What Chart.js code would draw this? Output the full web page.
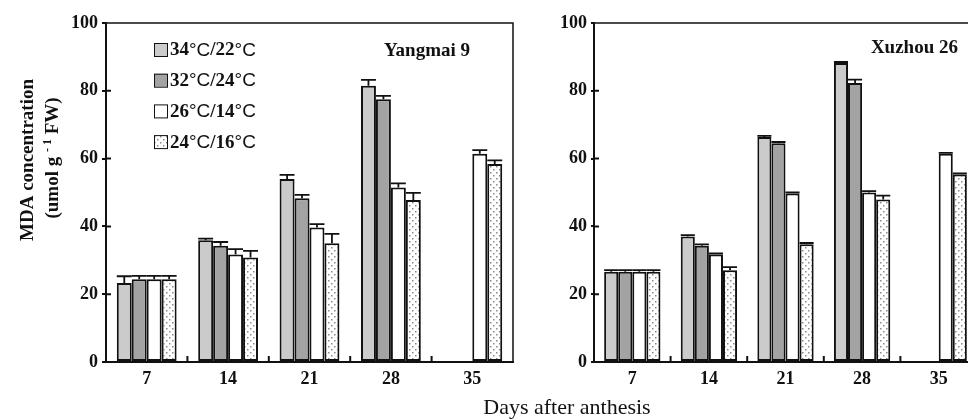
<!DOCTYPE html>
<html>
<head>
<meta charset="utf-8">
<script src="https://cdn.jsdelivr.net/npm/chart.js@4.4.0/dist/chart.umd.min.js"></script>
<style>
    html, body { margin: 0; padding: 0; background: #fff; }
    #wrap { position: relative; width: 968px; height: 419px; overflow: hidden; }
    #left { position: absolute; left: 0; top: 0; }
    #right { position: absolute; left: 480px; top: 0; }
    #xtitle {
        position: absolute; left: 417px; width: 300px; top: 394px;
        text-align: center; font: 22px "Liberation Serif", serif; color: #111;
    }
</style>
</head>
<body>
<div id="wrap">
    <canvas id="left" width="514" height="419"></canvas>
    <canvas id="right" width="498" height="419"></canvas>
    <div id="xtitle">Days after anthesis</div>
</div>
<script>
const days = ["7", "14", "21", "28", "35"];
const treatments = ["34°C/22°C", "32°C/24°C", "26°C/14°C", "24°C/16°C"];

// Yangmai 9
const ym34 = [23.3, 35.9, 54.0, 81.5, null];
const ym32 = [24.4, 34.3, 48.3, 77.5, null];
const ym26 = [24.4, 31.7, 39.7, 51.5, 61.4];
const ym24 = [24.4, 30.8, 35.0, 47.8, 58.4];
const ym34Err = [2.0, 0.5, 1.2, 1.7, 0];
const ym32Err = [1.0, 1.1, 1.0, 1.0, 0];
const ym26Err = [1.0, 1.6, 1.0, 1.2, 1.1];
const ym24Err = [1.0, 2.0, 2.8, 2.1, 1.1];

// Xuzhou 26
const xz34 = [26.6, 37.0, 66.4, 88.2, null];
const xz32 = [26.6, 34.3, 64.5, 82.3, null];
const xz26 = [26.6, 31.7, 49.7, 50.0, 61.4];
const xz24 = [26.6, 27.1, 34.7, 47.9, 55.3];
const xz34Err = [0.5, 0.4, 0.3, 0.3, 0];
const xz32Err = [0.5, 0.4, 0.4, 1.0, 0];
const xz26Err = [0.5, 0.3, 0.3, 0.4, 0.3];
const xz24Err = [0.5, 0.9, 0.4, 1.2, 0.3];

const yTicks = [0, 20, 40, 60, 80, 100];

const SERIF = '"Liberation Serif", "Times New Roman", serif';
const SANS = '"Liberation Sans", Arial, sans-serif';

function dotPattern() {
    const c = document.createElement("canvas");
    c.width = 6;
    c.height = 6;
    const g = c.getContext("2d");
    g.fillStyle = "#fff";
    g.fillRect(0, 0, 6, 6);
    g.fillStyle = "#8a8a8a";
    g.fillRect(1, 1, 1.5, 1.5);
    g.fillRect(4, 4, 1.5, 1.5);
    return g.createPattern(c, "repeat");
}

const fills = ["#cbcbcb", "#a3a3a3", "#ffffff", dotPattern()];

// error bars drawn upward from the top of each bar
const errorBars = {
    id: "errorBars",
    afterDatasetsDraw(chart) {
        const ctx = chart.ctx;
        const yScale = chart.scales.y;
        ctx.save();
        ctx.strokeStyle = "#111";
        ctx.lineWidth = 1.8;
        chart.data.datasets.forEach((ds, di) => {
            const meta = chart.getDatasetMeta(di);
            meta.data.forEach((bar, i) => {
                const v = ds.data[i];
                if (v === null || !ds.errors[i]) return;
                const yTop = yScale.getPixelForValue(v + ds.errors[i]);
                const half = bar.width / 2;
                ctx.beginPath();
                ctx.moveTo(bar.x, bar.y);
                ctx.lineTo(bar.x, yTop);
                ctx.moveTo(bar.x - half, yTop);
                ctx.lineTo(bar.x + half, yTop);
                ctx.stroke();
            });
        });
        ctx.restore();
    },
};

// box frame, inward ticks on the y axis and between day groups
const frame = {
    id: "frame",
    afterDraw(chart) {
        const ctx = chart.ctx;
        const a = chart.chartArea;
        const x = chart.scales.x;
        const y = chart.scales.y;
        ctx.save();
        ctx.strokeStyle = "#111";
        ctx.lineWidth = 1.5;
        ctx.beginPath();
        ctx.moveTo(a.left, a.top);
        ctx.lineTo(a.right, a.top);
        ctx.lineTo(a.right, a.bottom);
        ctx.stroke();
        ctx.lineWidth = 2;
        ctx.beginPath();
        for (let i = 1; i < days.length; i++) {
            const px = (x.getPixelForValue(i - 1) + x.getPixelForValue(i)) / 2;
            ctx.moveTo(px, a.bottom);
            ctx.lineTo(px, a.bottom - 6);
        }
        yTicks.slice(1, -1).forEach((v) => {
            const py = y.getPixelForValue(v);
            ctx.moveTo(a.left, py);
            ctx.lineTo(a.left + 5, py);
        });
        ctx.stroke();
        ctx.restore();
    },
};

function drawMixed(ctx, text, x, y) {
    // digits in bold serif, degree sign in plain sans
    const parts = text.split("°C");
    parts.forEach((p, i) => {
        ctx.font = "bold 19px " + SERIF;
        ctx.fillText(p, x, y);
        x += ctx.measureText(p).width;
        if (i < parts.length - 1) {
            ctx.font = "19px " + SANS;
            ctx.fillText("°C", x, y);
            x += ctx.measureText("°C").width;
        }
    });
}

const legendBox = {
    id: "legendBox",
    afterDraw(chart) {
        const ctx = chart.ctx;
        ctx.save();
        treatments.forEach((t, i) => {
            const cy = 49.5 + i * 30.7;
            ctx.fillStyle = fills[i];
            ctx.fillRect(154, cy - 6.5, 13, 13);
            ctx.strokeStyle = "#111";
            ctx.lineWidth = 1;
            ctx.strokeRect(154.5, cy - 6, 13, 13);
            ctx.fillStyle = "#111";
            ctx.textBaseline = "middle";
            ctx.textAlign = "left";
            drawMixed(ctx, t, 170, cy + 1);
        });
        ctx.restore();
    },
};

const yTitle = {
    id: "yTitle",
    afterDraw(chart) {
        const ctx = chart.ctx;
        ctx.save();
        ctx.fillStyle = "#111";
        ctx.textBaseline = "middle";
        ctx.translate(28, 160);
        ctx.rotate(-Math.PI / 2);
        ctx.textAlign = "center";
        ctx.font = "bold 19px " + SERIF;
        ctx.fillText("MDA concentration", 0, 0);
        ctx.restore();

        ctx.save();
        ctx.fillStyle = "#111";
        ctx.textBaseline = "middle";
        ctx.translate(53, 158);
        ctx.rotate(-Math.PI / 2);
        ctx.textAlign = "left";
        const big = "bold 19px " + SERIF;
        const small = "bold 12px " + SERIF;
        const pieces = [["(umol g ", big, 0], ["- 1", small, -5], [" FW)", big, 0]];
        let w = 0;
        pieces.forEach(([s, f]) => { ctx.font = f; w += ctx.measureText(s).width; });
        let px = -w / 2;
        pieces.forEach(([s, f, dy]) => {
            ctx.font = f;
            ctx.fillText(s, px, dy);
            px += ctx.measureText(s).width;
        });
        ctx.restore();
    },
};

function cultivarLabel(name, offsetRight, cy) {
    return {
        id: "cultivar",
        afterDraw(chart) {
            const ctx = chart.ctx;
            ctx.save();
            ctx.fillStyle = "#111";
            ctx.font = "bold 19px " + SERIF;
            ctx.textAlign = "right";
            ctx.textBaseline = "middle";
            ctx.fillText(name, chart.chartArea.right - offsetRight, cy);
            ctx.restore();
        },
    };
}

function makeChart(canvasId, series, errs, axisWidth, tickLen, plugins) {
    const ctx = document.getElementById(canvasId).getContext("2d");
    return new Chart(ctx, {
        type: "bar",
        data: {
            labels: days,
            datasets: series.map((s, i) => ({
                label: treatments[i],
                data: s,
                errors: errs[i],
                backgroundColor: fills[i],
                borderColor: "#111",
                borderWidth: 2,
                borderSkipped: false,
                categoryPercentage: 0.735,
                barPercentage: 1.0,
            })),
        },
        options: {
            responsive: false,
            animation: false,
            devicePixelRatio: 1,
            layout: { padding: { top: 23, right: 1, left: 0, bottom: 0 } },
            plugins: {
                legend: { display: false },
                tooltip: { enabled: false },
            },
            scales: {
                x: {
                    offset: true,
                    grid: { display: false, drawTicks: false },
                    border: { display: true, color: "#111", width: 2 },
                    ticks: {
                        color: "#111",
                        padding: 7,
                        font: { family: SERIF, size: 18, weight: "bold" },
                    },
                    afterFit: (s) => { s.height = 57; },
                },
                y: {
                    min: 0,
                    max: 100,
                    afterBuildTicks: (s) => { s.ticks = yTicks.map((v) => ({ value: v })); },
                    grid: { drawOnChartArea: false, tickLength: tickLen, color: "#111", lineWidth: 2 },
                    border: { display: true, color: "#111", width: 2 },
                    ticks: {
                        color: "#111",
                        padding: 4,
                        font: { family: SERIF, size: 18, weight: "bold" },
                    },
                    afterFit: (s) => { s.width = axisWidth; },
                },
            },
        },
        plugins: [errorBars, frame].concat(plugins),
    });
}

makeChart(
    "left",
    [ym34, ym32, ym26, ym24],
    [ym34Err, ym32Err, ym26Err, ym24Err],
    106,
    4,
    [legendBox, yTitle, cultivarLabel("Yangmai 9", 43, 51)]
);

makeChart(
    "right",
    [xz34, xz32, xz26, xz24],
    [xz34Err, xz32Err, xz26Err, xz24Err],
    114,
    3,
    [cultivarLabel("Xuzhou 26", 19, 48)]
);
</script>
</body>
</html>
